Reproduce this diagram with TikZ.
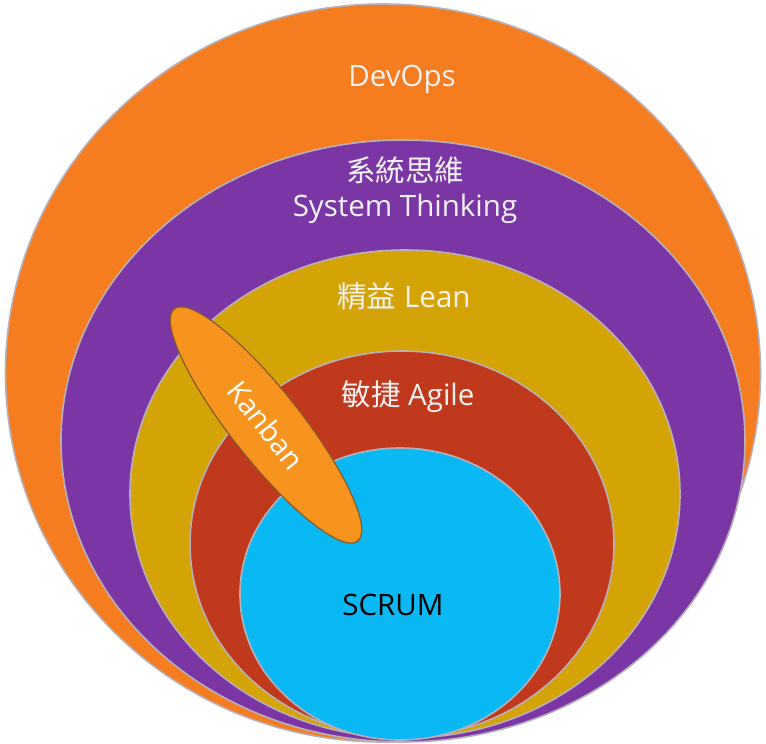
\documentclass[tikz,border=0pt]{standalone}
\usepackage{fontspec}
\setmainfont{Open Sans}
\newfontfamily\cjk{Noto Sans CJK TC}
\usetikzlibrary{shapes.geometric}
\definecolor{cDevOps}{HTML}{F57C1F}
\definecolor{cSys}{HTML}{7B36A6}
\definecolor{cLean}{HTML}{D4A406}
\definecolor{cAgile}{HTML}{C0391D}
\definecolor{cScrum}{HTML}{0AB9F4}
\definecolor{cKanban}{HTML}{F7941E}
\definecolor{cRim}{HTML}{B8B0B8}
\definecolor{cText}{HTML}{F2F2F2}
\begin{document}
\begin{tikzpicture}[x=1pt,y=-1pt,
  ring/.style={ellipse,inner sep=0pt,outer sep=0pt,draw=cRim,line width=1.6pt},
  lbl/.style={text=cText,font=\fontsize{29.5}{35}\selectfont,align=center,inner sep=0pt},
  kanbanbox/.style={ellipse,inner sep=0pt,outer sep=0pt,draw=brown!70!black,line width=1.2pt,fill=cKanban,
     minimum width=296pt,minimum height=70pt,rotate=-51.7,text=white,font=\fontsize{29}{34}\selectfont}]
\useasboundingbox (0,0) rectangle (766,744);
\node[ring,fill=cDevOps,minimum width=755pt,minimum height=738pt] (devops) at (383,373) {};
\node[ring,fill=cSys,minimum width=684pt,minimum height=602pt] (sys) at (403,441) {};
\node[ring,fill=cLean,minimum width=550pt,minimum height=488pt] (lean) at (405,494) {};
\node[ring,fill=cAgile,minimum width=424pt,minimum height=386pt] (agile) at (402,544) {};
\node[ring,fill=cScrum,minimum width=320pt,minimum height=292pt] (scrum) at (400,594) {};
\node[kanbanbox] (kanban) at (266,425) {Kanban};
\node[lbl] (tdevops) at (402,79) {DevOps};
\node[lbl] (tsys) at (405,190) {{\cjk 系統思維}\\System Thinking};
\node[lbl] (tlean) at (404,296) {{\cjk 精益} Lean};
\node[lbl] (tagile) at (408,397) {{\cjk 敏捷} Agile};
\node[lbl,text=black] (tscrum) at (393,605) {SCRUM};
\end{tikzpicture}
\end{document}
